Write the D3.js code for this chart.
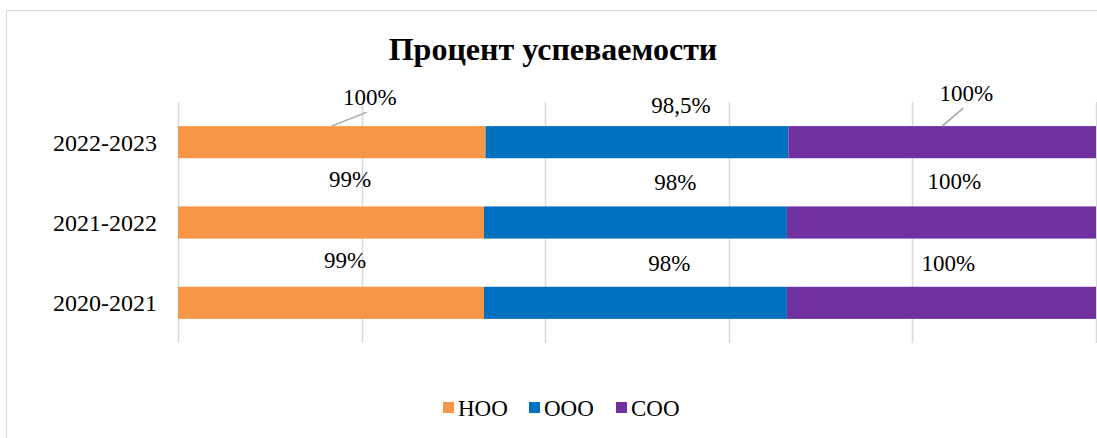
<!DOCTYPE html>
<html>
<head>
<meta charset="utf-8">
<script src="https://d3js.org/d3.v7.min.js"></script>
<style>
  body { margin: 0; background: #fff; }
  svg { display: block; font-family: "Liberation Serif", "Times New Roman", serif; }
</style>
</head>
<body>
<div id="chart"></div>
<script>
// data
var years = ["2022-2023", "2021-2022", "2020-2021"];
var levels = ["НОО", "ООО", "СОО"];
var noo = [100, 99, 99];
var ooo = [98.5, 98, 98];
var soo = [100, 100, 100];
var labelText = [["100%", "98,5%", "100%"], ["99%", "98%", "100%"], ["99%", "98%", "100%"]];
var xTicks = [0, 0.2, 0.4, 0.6, 0.8, 1];

var colors = ["#F79646", "#0070C0", "#7030A0"];

var width = 1097, height = 438;

var rows = years.map(function(y, i) {
  return { year: y, "НОО": noo[i], "ООО": ooo[i], "СОО": soo[i] };
});

// label offsets (from segment centre / bar top), the way they were dragged in the original
var labelPos = [
  [[38, -29, true], [44, -21, false], [24, -33, true]],
  [[19, -27, false], [40, -24, false], [13, -25, false]],
  [[14, -27, false], [34, -24, false], [7, -24, false]]
];

var svg = d3.select("#chart").append("svg")
  .attr("width", width)
  .attr("height", height);

// chart area border
svg.append("rect")
  .attr("x", 6.5).attr("y", 10.5)
  .attr("width", 1200).attr("height", 600)
  .attr("fill", "#fff")
  .attr("stroke", "#d9d9d9");

var x = d3.scaleLinear().domain([0, 1]).range([178, 1096]);
var y = d3.scaleBand().domain(years).range([102, 343]).paddingInner(0.6).paddingOuter(0.3);

// grid
svg.append("g").selectAll("line")
  .data(xTicks)
  .enter().append("line")
    .attr("x1", function(d) { return Math.round(x(d)) + 0.5; })
    .attr("x2", function(d) { return Math.round(x(d)) + 0.5; })
    .attr("y1", 102).attr("y2", 343)
    .attr("stroke", "#d9d9d9")
    .attr("stroke-width", 1.5);

var series = d3.stack().keys(levels).offset(d3.stackOffsetExpand)(rows);

svg.append("g").selectAll("g")
  .data(series)
  .enter().append("g")
    .attr("fill", function(d, i) { return colors[i]; })
  .selectAll("rect")
  .data(function(d) { return d; })
  .enter().append("rect")
    .attr("x", function(d) { return x(d[0]); })
    .attr("y", function(d) { return y(d.data.year); })
    .attr("width", function(d) { return x(d[1]) - x(d[0]); })
    .attr("height", y.bandwidth());

// category labels
svg.append("g").selectAll("text")
  .data(years)
  .enter().append("text")
    .attr("x", 157)
    .attr("y", function(d) { return y(d) + y.bandwidth() / 2; })
    .attr("dy", "0.35em")
    .attr("text-anchor", "end")
    .attr("font-size", 24)
    .attr("fill", "#000")
    .text(function(d) { return d; });

// data labels
var lab = svg.append("g");
series.forEach(function(s, j) {
  s.forEach(function(d, i) {
    var cx = (x(d[0]) + x(d[1])) / 2;
    var top = y(d.data.year);
    var p = labelPos[i][j];
    var lx = cx + p[0], ly = top + p[1];
    if (p[2]) {
      lab.append("line")
        .attr("x1", cx).attr("y1", top)
        .attr("x2", lx - 3).attr("y2", ly + 15)
        .attr("stroke", "#a6a6a6")
        .attr("stroke-width", 1.5);
    }
    lab.append("text")
      .attr("x", lx).attr("y", ly)
      .attr("dy", "0.35em")
      .attr("text-anchor", "middle")
      .attr("font-size", 23)
      .attr("fill", "#000")
      .text(labelText[i][j]);
  });
});

// title
svg.append("text")
  .attr("x", 553).attr("y", 60)
  .attr("text-anchor", "middle")
  .attr("font-size", 32)
  .attr("font-weight", "bold")
  .attr("fill", "#000")
  .text("Процент успеваемости");

// legend
var legX = [443, 529, 616];
var leg = svg.append("g").selectAll("g")
  .data(levels)
  .enter().append("g")
    .attr("transform", function(d, i) { return "translate(" + legX[i] + ",402)"; });
leg.append("rect")
  .attr("width", 11).attr("height", 11)
  .attr("fill", function(d, i) { return colors[i]; });
leg.append("text")
  .attr("x", 15).attr("y", 5.5)
  .attr("dy", "0.35em")
  .attr("font-size", 23)
  .attr("fill", "#000")
  .text(function(d) { return d; });
</script>
</body>
</html>
